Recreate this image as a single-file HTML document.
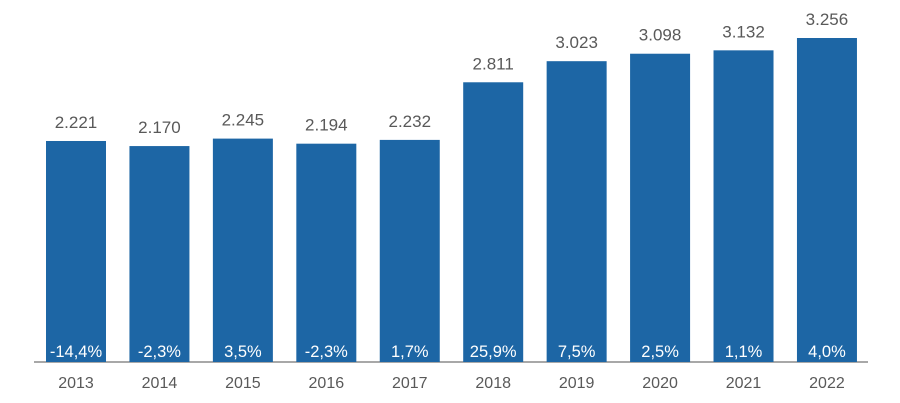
<!DOCTYPE html>
<html><head><meta charset="utf-8"><style>
body{margin:0;background:#fff;}
svg{display:block;font-family:"Liberation Sans",sans-serif;}
</style></head><body>
<svg id="chart" width="900" height="403" viewBox="0 0 900 403">
<line x1="34" y1="362" x2="868" y2="362" stroke="#8c8c8c" stroke-width="1.5"/>
<g id="bars"></g>
</svg>
<script>
const categories=["2013","2014","2015","2016","2017","2018","2019","2020","2021","2022"];
const values=[2221,2170,2245,2194,2232,2811,3023,3098,3132,3256];
const valueLabels=["2.221","2.170","2.245","2.194","2.232","2.811","3.023","3.098","3.132","3.256"];
const changeLabels=["-14,4%","-2,3%","3,5%","-2,3%","1,7%","25,9%","7,5%","2,5%","1,1%","4,0%"];
const NS="http://www.w3.org/2000/svg";
const g=document.getElementById('bars');
const baseY=362, x0=46, step=83.44, bw=60, scale=(362-38)/3256;
const xPos=i=>x0+i*step;
const yPos=v=>baseY-v*scale;
function mk(tag,attrs,text){const e=document.createElementNS(NS,tag);for(const k in attrs)e.setAttribute(k,attrs[k]);if(text!==undefined)e.textContent=text;g.appendChild(e);return e;}
categories.forEach((c,i)=>{
  const x=xPos(i), y=yPos(values[i]), cx=x+bw/2;
  const r=mk('rect',{x:x,y:y,width:bw,height:baseY-y,fill:'#1d66a5'});
  
  
  const v=mk('text',{x:cx,y:y-13,'text-anchor':'middle','font-size':'17',fill:'#595959'},valueLabels[i]);
  
  
  const p=mk('text',{x:cx,y:357,'text-anchor':'middle','font-size':'16.5',fill:'#fff'},changeLabels[i]);
  
  
  const t=mk('text',{x:cx,y:388,'text-anchor':'middle','font-size':'16',fill:'#595959'},c);
  
  
});
</script>
</body></html>
